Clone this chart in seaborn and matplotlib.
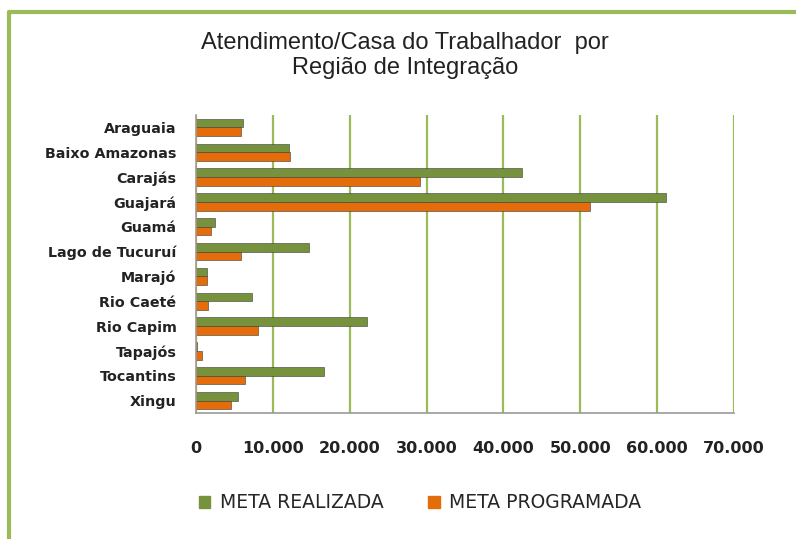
import pandas as pd
import numpy as np
import matplotlib.pyplot as plt
import seaborn as sns
from matplotlib.lines import Line2D
from matplotlib.ticker import FuncFormatter, FixedLocator

# Data
regioes = ['Araguaia', 'Baixo Amazonas', 'Carajás', 'Guajará', 'Guamá',
           'Lago de Tucuruí', 'Marajó', 'Rio Caeté', 'Rio Capim', 'Tapajós',
           'Tocantins', 'Xingu']
meta_realizada = [6100, 12100, 42400, 61200, 2500, 14700, 1400, 7300, 22300, 100, 16600, 5500]
meta_programada = [5800, 12200, 29200, 51300, 1900, 5900, 1400, 1600, 8100, 800, 6400, 4500]
series = ['META REALIZADA', 'META PROGRAMADA']
cores = ['#76923C', '#E46C0A']
x_ticks = [0, 10000, 20000, 30000, 40000, 50000, 60000, 70000]

df = pd.DataFrame({'Regiao': regioes,
                   series[0]: meta_realizada,
                   series[1]: meta_programada})
df = df.melt(id_vars='Regiao', var_name='Serie', value_name='Valor')

sns.set_style('white')
plt.rcParams['font.family'] = ['DejaVu Sans']

fig = plt.figure(figsize=(7.96, 5.39), dpi=100)
ax = fig.add_axes([196 / 796, 1 - 413 / 539, (734 - 196) / 796, (413 - 115) / 539])

sns.barplot(data=df, y='Regiao', x='Valor', hue='Serie', orient='h',
            palette=cores, saturation=1, width=0.7, edgecolor='#3a3a3a',
            linewidth=0.4, ax=ax, legend=True)

ax.set_xlim(0, 70000)
ax.set_ylim(len(regioes) - 0.5, -0.5)
ax.xaxis.set_major_locator(FixedLocator(x_ticks))
ax.xaxis.set_major_formatter(FuncFormatter(lambda v, p: f'{v:,.0f}'.replace(',', '.')))
ax.grid(axis='x', color='#9BBB59', linewidth=1.6)
ax.set_axisbelow(True)
ax.set_xlabel('')
ax.set_ylabel('')

for s in ['top', 'right']:
    ax.spines[s].set_visible(False)
ax.spines['left'].set_color('#a89a8e')
ax.spines['bottom'].set_color('#999999')
ax.spines['left'].set_linewidth(1.2)
ax.spines['bottom'].set_linewidth(1.2)

ax.tick_params(axis='x', length=4, color='#999999', pad=16, labelsize=11.5, labelcolor='#222222')
ax.tick_params(axis='y', length=0, pad=14, labelsize=10.3, labelcolor='#222222')
for lab in ax.get_yticklabels():
    lab.set_fontweight('bold')
for lab in ax.get_xticklabels():
    lab.set_fontweight('bold')

# orange tick marks between the categories
ax.yaxis.set_minor_locator(FixedLocator(np.arange(-0.5, len(regioes), 1.0)))
ax.tick_params(axis='y', which='minor', length=4, color='#F79646', width=1.2)

ax.legend_.remove()
handles = [plt.Rectangle((0, 0), 1, 1, color=c) for c in cores]
fig.legend(handles, series, loc='center', bbox_to_anchor=(420 / 796, 1 - 503 / 539),
           ncol=2, frameon=False, fontsize=13.5, handlelength=0.6, handleheight=0.6,
           handletextpad=0.5, columnspacing=2.4)

fig.text(405 / 796, 1 - 32 / 539, 'Atendimento/Casa do Trabalhador  por\nRegião de Integração',
         ha='center', va='top', fontsize=17, family='Liberation Sans',
         color='#222222', linespacing=1.15)

# green frame around the chart
fig.add_artist(Line2D([9 / 796, 1], [1 - 12 / 539, 1 - 12 / 539], color='#9BBB59', linewidth=3))
fig.add_artist(Line2D([9 / 796, 9 / 796], [0, 1 - 12 / 539], color='#9BBB59', linewidth=3))

fig.savefig('out.png', dpi=100)
